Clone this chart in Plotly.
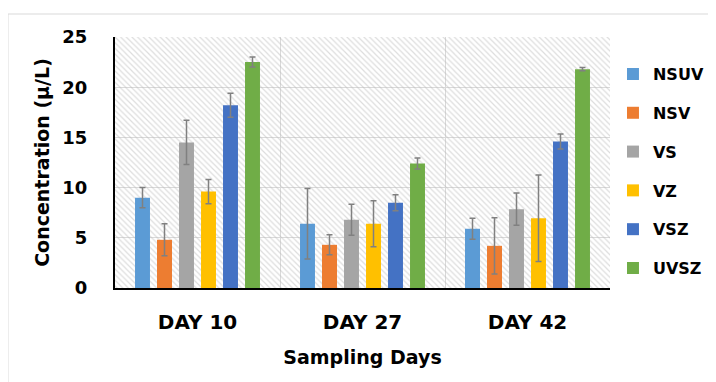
import plotly.graph_objects as go

days = ["DAY 10", "DAY 27", "DAY 42"]
series_names = ["NSUV", "NSV", "VS", "VZ", "VSZ", "UVSZ"]
nsuv = [9.0, 6.4, 5.9]
nsuv_err = [1.0, 3.5, 1.05]
nsv = [4.8, 4.3, 4.2]
nsv_err = [1.6, 1.0, 2.8]
vs = [14.5, 6.8, 7.85]
vs_err = [2.2, 1.55, 1.6]
vz = [9.6, 6.4, 6.95]
vz_err = [1.2, 2.3, 4.3]
vsz = [18.2, 8.5, 14.6]
vsz_err = [1.2, 0.8, 0.75]
uvsz = [22.5, 12.4, 21.8]
uvsz_err = [0.5, 0.55, 0.15]

values = [nsuv, nsv, vs, vz, vsz, uvsz]
errors = [nsuv_err, nsv_err, vs_err, vz_err, vsz_err, uvsz_err]
colors = ["#5b9bd5", "#ed7d31", "#a5a5a5", "#ffc000", "#4472c4", "#70ad47"]

FONT = "DejaVu Sans"
fig = go.Figure()

# hatched plot-area background (decorative)
fig.add_trace(go.Bar(
    x=[1], y=[25], width=[3], xaxis="x", yaxis="y",
    marker=dict(color="rgba(0,0,0,0)", line=dict(width=0),
                pattern=dict(shape="\\", fgcolor="#bcbcbc", bgcolor="rgba(0,0,0,0)",
                             size=4, solidity=0.3)),
    showlegend=False, hoverinfo="skip"))

for name, v, e, c in zip(series_names, values, errors, colors):
    fig.add_trace(go.Bar(
        x=days, y=v, name=name, xaxis="x2", yaxis="y", legendgroup=name,
        marker=dict(color=c, line=dict(width=0)),
        error_y=dict(type="data", array=e, visible=True, color="#808080",
                     thickness=1.5, width=3)))

fig.update_layout(
    width=716, height=382,
    margin=dict(l=107, r=114, t=29, b=102, autoexpand=False),
    paper_bgcolor="white", plot_bgcolor="white",
    barmode="group", bargap=0.2, bargroupgap=0.32,
    font=dict(family=FONT, color="black", weight="bold"),
    xaxis=dict(range=[-0.5, 2.5], showgrid=False, zeroline=False,
               showticklabels=False, ticks="", showline=True,
               linecolor="black", linewidth=2, fixedrange=True),
    xaxis2=dict(overlaying="x", anchor="y", side="bottom", type="category",
                range=[-0.5, 2.5], tickson="boundaries", showgrid=True,
                gridcolor="#d9d9d9", gridwidth=1, ticks="",
                ticklabelstandoff=20, showline=False,
                tickfont=dict(family=FONT, size=20, weight="bold"),
                title=dict(text="Sampling Days", standoff=17,
                           font=dict(family=FONT, size=19, weight="bold"))),
    yaxis=dict(range=[0, 25], dtick=5, showgrid=True, gridcolor="#d9d9d9",
               gridwidth=1, zeroline=False, showline=True, linecolor="black",
               linewidth=2, ticks="", ticklabelstandoff=22,
               tickfont=dict(family=FONT, size=18, weight="bold"),
               title=dict(text="Concentration (µ/L)", standoff=8,
                          font=dict(family=FONT, size=19, weight="bold"))),
    legend=dict(x=1.006, xanchor="left", y=0.92, yanchor="top",
                traceorder="grouped", tracegroupgap=15,
                font=dict(family=FONT, size=16, weight="bold"),
                bgcolor="rgba(0,0,0,0)"),
    shapes=[dict(type="rect", xref="paper", yref="paper",
                 x0=-0.2162, x1=1.4, y0=-0.6, y1=1.0916,
                 line=dict(color="#d9d9d9", width=1), fillcolor="rgba(0,0,0,0)",
                 layer="below")],
)

fig.write_html("out.html")
